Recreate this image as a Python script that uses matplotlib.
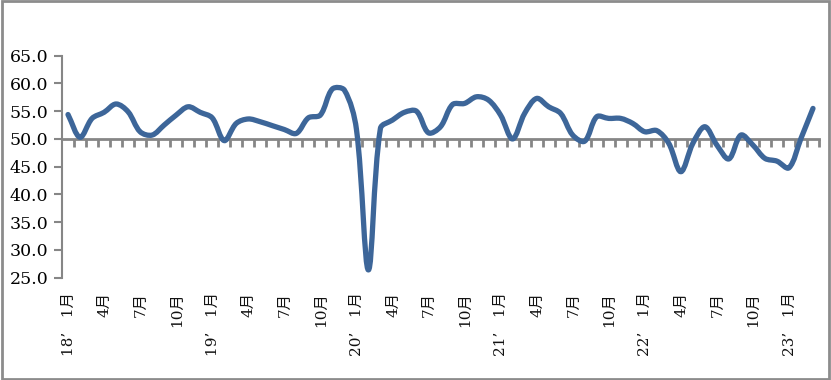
import numpy as np
import matplotlib
matplotlib.use('Agg')
import matplotlib.pyplot as plt
from matplotlib.path import Path
from matplotlib.patches import PathPatch, Rectangle
from matplotlib.transforms import blended_transform_factory

# monthly index, 2018-01 .. 2023-03
values = [54.4, 50.3, 53.7, 54.8, 56.3, 54.9, 51.3, 50.7, 52.5, 54.3, 55.8, 54.8,
          53.8, 49.7, 52.8, 53.6, 53.1, 52.4, 51.7, 51.0, 53.8, 54.3, 59.0, 58.8,
          51.8, 26.4, 51.9, 53.4, 54.8, 55.0, 51.1, 52.2, 56.2, 56.4, 57.6, 57.0,
          54.3, 50.0, 54.6, 57.3, 55.8, 54.6, 50.7, 49.6, 54.0, 53.7, 53.7, 52.8,
          51.3, 51.5, 49.2, 44.1, 49.2, 52.2, 48.9, 46.4, 50.7, 48.9, 46.5, 46.0,
          44.8, 50.1, 55.5]
label_idx = list(range(0, 63, 3))
label_txt = ["18’   1月", "4月", "7月", "10月",
             "19’   1月", "4月", "7月", "10月",
             "20’   1月", "4月", "7月", "10月",
             "21’   1月", "4月", "7月", "10月",
             "22’   1月", "4月", "7月", "10月",
             "23’   1月"]
yticks = [25, 30, 35, 40, 45, 50, 55, 60, 65]

fonts = ['DejaVu Serif', 'Noto Sans CJK SC']
line_color = '#3d6699'
grey = '#868686'

fig = plt.figure(figsize=(8.31, 3.80), dpi=100)
fig.patches.append(Rectangle((0.002, 0.003), 0.996, 0.994, transform=fig.transFigure,
                             fill=False, edgecolor='#8c8c8c', linewidth=2))
ax_w, ax_h = 757, 222
ax = fig.add_axes([62 / 831, 102.3 / 380, ax_w / 831, ax_h / 380])

n = len(values)
ax.set_xlim(-0.5, n - 0.5)
ax.set_ylim(25, 65)

# smooth line like the office chart: bezier through the points,
# control arms weighted by segment lengths (in pixels) so big jumps don't overshoot
x = np.arange(n, dtype=float)
y = np.array(values, dtype=float)
sx, sy = ax_w / n, ax_h / 40.0


def seg(a, b):
    return np.hypot((x[b] - x[a]) * sx, (y[b] - y[a]) * sy)


verts = [(x[0], y[0])]
codes = [Path.MOVETO]
for i in range(n - 1):
    i0, i3 = max(i - 1, 0), min(i + 2, n - 1)
    p0 = np.array([x[i0], y[i0]])
    p1 = np.array([x[i], y[i]])
    p2 = np.array([x[i + 1], y[i + 1]])
    p3 = np.array([x[i3], y[i3]])
    d01, d12, d23 = seg(i0, i), seg(i, i + 1), seg(i + 1, i3)
    c1 = p1 + (p2 - p0) * d12 / (3 * (d01 + d12)) if d01 > 0 else p1 + (p2 - p1) / 3
    c2 = p2 - (p3 - p1) * d12 / (3 * (d12 + d23)) if d23 > 0 else p2 - (p2 - p1) / 3
    verts += [tuple(c1), tuple(c2), tuple(p2)]
    codes += [Path.CURVE4] * 3
ax.add_patch(PathPatch(Path(verts, codes), fill=False, edgecolor=line_color,
                       linewidth=3.8, capstyle='round', joinstyle='round', zorder=3))

for s in ['top', 'right']:
    ax.spines[s].set_visible(False)
ax.spines['left'].set_color(grey)
ax.spines['left'].set_linewidth(1.5)
ax.spines['bottom'].set_position(('data', 50))
ax.spines['bottom'].set_color(grey)
ax.spines['bottom'].set_linewidth(2)
ax.spines['bottom'].set_zorder(2)

ax.set_yticks(yticks)
ax.set_yticklabels([f'{v:.1f}' for v in yticks], family=fonts, fontsize=12.5)
ax.tick_params(axis='y', direction='out', length=6, width=1.5, color=grey, pad=4)

ax.set_xticks(np.arange(0.5, n, 1.0))
ax.set_xticklabels([])
ax.tick_params(axis='x', direction='out', length=6, width=2, color=grey)

tr = blended_transform_factory(ax.transData, ax.transAxes)
for i, t in zip(label_idx, label_txt):
    ax.text(i + 0.05, -0.065, t, transform=tr, rotation=90, ha='center', va='top',
            family=fonts, fontsize=11, color='#111111')

fig.savefig('out.png', dpi=100)
